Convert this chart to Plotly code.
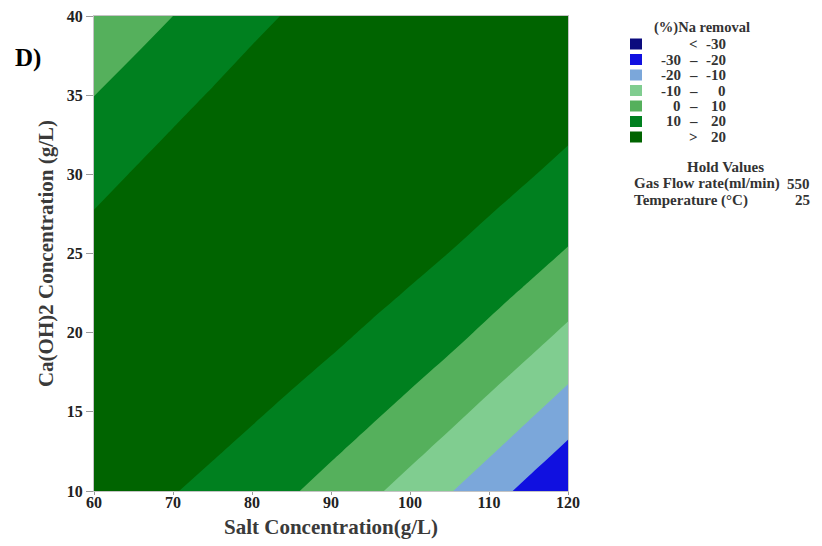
import plotly.graph_objects as go

# Salt concentration (g/L) and Ca(OH)2 concentration (g/L) grid
salt = [60, 65, 70, 75, 80, 85, 90, 95, 100, 105, 110, 115, 120]
caoh = [10, 12.5, 15, 17.5, 20, 22.5, 25, 27.5, 30, 32.5, 35, 37.5, 40]

# (%)Na removal, one row per Ca(OH)2 value
na_removal = [
    [24.1, 22.5, 20.4, 17.8, 14.6, 10.9, 6.6, 1.8, -3.5, -9.4, -15.8, -22.8, -29.7],
    [25.3, 24.3, 22.8, 20.7, 18.1, 14.9, 11.2, 7.0, 2.2, -3.0, -8.9, -15.3, -22.2],
    [25.9, 25.5, 24.6, 23.1, 21.0, 18.4, 15.3, 11.6, 7.4, 2.7, -2.6, -8.4, -14.8],
    [26.0, 26.1, 25.8, 24.8, 23.3, 21.3, 18.8, 15.6, 12.0, 7.9, 3.1, -2.1, -7.9],
    [25.5, 26.2, 26.4, 26.0, 25.1, 23.7, 21.7, 19.1, 16.1, 12.5, 8.3, 3.6, -1.6],
    [24.3, 25.6, 26.4, 26.6, 26.2, 25.4, 23.9, 22.0, 19.5, 16.5, 12.8, 8.7, 4.1],
    [22.6, 24.5, 25.8, 26.6, 26.8, 26.5, 25.6, 24.3, 22.3, 19.9, 16.8, 13.3, 9.2],
    [20.3, 22.7, 24.6, 26.0, 26.8, 27.0, 26.7, 25.9, 24.5, 22.7, 20.2, 17.2, 13.7],
    [17.4, 20.4, 22.9, 24.8, 26.2, 27.0, 27.3, 27.0, 26.2, 24.9, 23.0, 20.6, 17.6],
    [13.9, 17.5, 20.5, 23.0, 25.0, 26.3, 27.2, 27.5, 27.3, 26.5, 25.2, 23.3, 20.9],
    [9.9, 14.0, 17.6, 20.6, 23.2, 25.1, 26.5, 27.4, 27.8, 27.6, 26.8, 25.5, 23.7],
    [5.2, 9.9, 14.1, 17.6, 20.8, 23.3, 25.2, 26.7, 27.6, 28.0, 27.8, 27.1, 25.8],
    [0.0, 5.2, 10.0, 14.1, 17.8, 20.9, 23.4, 25.5, 26.9, 27.9, 28.3, 28.1, 27.4],
]

# Contour levels and the fill colour of each band (lowest band first)
levels = [-30, -20, -10, 0, 10, 20]
band_colors = ["#0b0b7e", "#1010e0", "#7ba7da", "#80cd90", "#55b05c", "#00801f", "#006400"]

hold_names = ["Gas Flow rate(ml/min)", "Temperature (°C)"]
hold_values = [550, 25]

FONT = "Liberation Serif"
TXT = "#333333"

W, H = 822, 546
L, R, T, B = 94, 254, 16, 55
PW, PH = W - L - R, H - T - B


def px(xp):
    return (xp - L) / PW


def py(yp):
    return (H - B - yp) / PH


step = levels[1] - levels[0]
n = len(band_colors)
fig = go.Figure(
    go.Contour(
        x=salt,
        y=caoh,
        z=na_removal,
        contours=dict(start=levels[0], end=levels[-1], size=step,
                      coloring="fill", showlines=False),
        colorscale=[[i / (n - 1), c] for i, c in enumerate(band_colors)],
        line=dict(width=0),
        showscale=False,
        hoverinfo="skip",
    )
)

axis_common = dict(
    showgrid=False, zeroline=False,
    showline=True, linecolor="#c4c4c4", linewidth=1, mirror=True,
    ticks="outside", tickcolor="#9a9a9a", tickwidth=1,
    tickfont=dict(family=FONT, size=16, color="#222222", weight="bold"),
)
fig.update_xaxes(range=[60, 120], dtick=10, tick0=60, ticklen=3, ticklabelstandoff=-6,
                 title=dict(text="Salt Concentration(g/L)", standoff=9,
                            font=dict(family=FONT, size=21, color="#3a3a3a", weight="bold")),
                 **axis_common)
fig.update_yaxes(range=[10, 40], dtick=5, tick0=10, ticklen=7,
                 title=dict(text="Ca(OH)2 Concentration (g/L)", standoff=7,
                            font=dict(family=FONT, size=21, color="#3a3a3a", weight="bold")),
                 **axis_common)

shapes = []
annotations = []


def text(x, y, s, anchor="left", size=15, color=TXT):
    annotations.append(dict(
        x=px(x), y=py(y), xref="paper", yref="paper", text=s, showarrow=False,
        xanchor=anchor, yanchor="middle",
        font=dict(family=FONT, size=size, color=color, weight="bold"),
    ))


# Panel letter
text(13, 58, "D)", size=25, color="#000000")

# Band legend
text(702, 27, "(%)Na removal", anchor="center", size=14.5)
row0, row_gap = 44, 15.5
for i, col in enumerate(band_colors):
    yc = row0 + i * row_gap
    shapes.append(dict(type="rect", xref="paper", yref="paper",
                       x0=px(630), x1=px(642), y0=py(yc + 5.5), y1=py(yc - 5.5),
                       fillcolor=col, line=dict(width=0)))
    if i == 0:
        text(693, yc, "<", anchor="center")
        text(728, yc, str(levels[0]), anchor="right")
    elif i == n - 1:
        text(693, yc, ">", anchor="center")
        text(728, yc, str(levels[-1]), anchor="right")
    else:
        text(683, yc, str(levels[i - 1]), anchor="right")
        text(693, yc, "–", anchor="center")
        text(728, yc, str(levels[i]), anchor="right")

# Hold values block
text(725, 167, "Hold Values", anchor="center")
for j, (name, val) in enumerate(zip(hold_names, hold_values)):
    yc = 183.5 + j * 16.5
    text(632, yc, name)
    text(812, yc, str(val), anchor="right")

fig.update_layout(
    width=W, height=H,
    margin=dict(l=L, r=R, t=T, b=B, autoexpand=False),
    paper_bgcolor="white", plot_bgcolor="white",
    shapes=shapes, annotations=annotations,
    showlegend=False,
)

fig.write_html("out.html")
